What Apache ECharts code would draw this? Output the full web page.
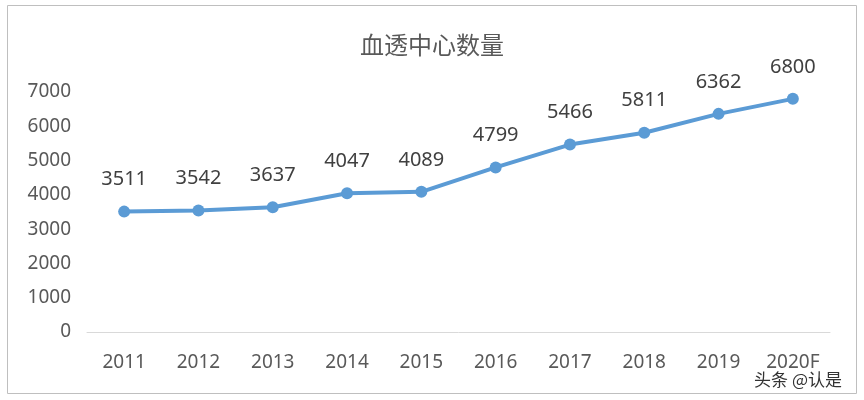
<!DOCTYPE html>
<html><head><meta charset="utf-8">
<script src="https://cdn.jsdelivr.net/npm/echarts@6/dist/echarts.min.js"></script>
<style>html,body{margin:0;padding:0;background:#fff}#c{width:864px;height:400px}</style>
</head><body><div id="c"></div>
<script>
const categories=['2011','2012','2013','2014','2015','2016','2017','2018','2019','2020F'];
const values=[3511,3542,3637,4047,4089,4799,5466,5811,6362,6800];
const yTicks=[0,1000,2000,3000,4000,5000,6000,7000];
const chart=echarts.init(document.getElementById('c'));
chart.setOption({
  animation:false,
  title:{text:'血透中心数量',left:'center',top:28,textStyle:{fontFamily:'Noto Sans CJK SC',fontSize:24,fontWeight:'normal',color:'#595959'}},
  graphic:[
    {type:'rect',shape:{x:7.5,y:5.5,width:849,height:388},style:{fill:'none',stroke:'#bfbfbf',lineWidth:1}},
    {type:'text',right:22,bottom:12,style:{text:'头条 @认是',fill:'#333',font:'17px "Noto Sans CJK SC"'}}
  ],
  grid:{left:87,right:34,top:92,bottom:68},
  xAxis:{type:'category',data:categories,boundaryGap:true,
    axisLine:{lineStyle:{color:'#d9d9d9'}},axisTick:{show:false},
    axisLabel:{color:'#595959',fontSize:19,margin:21,fontFamily:'Noto Sans'}},
  yAxis:{type:'value',min:0,max:7000,interval:1000,
    axisLine:{show:false},axisTick:{show:false},splitLine:{show:false},
    axisLabel:{color:'#595959',fontSize:19,margin:16,fontFamily:'Noto Sans',
      formatter:v=>yTicks.includes(v)?String(v):''}},
  series:[{type:'line',data:values,symbol:'circle',symbolSize:12,
    lineStyle:{color:'#5b9bd5',width:4},itemStyle:{color:'#5b9bd5'},
    label:{show:true,position:'top',distance:16,color:'#404040',fontSize:20,fontFamily:'Noto Sans'}}]
});
</script></body></html>
